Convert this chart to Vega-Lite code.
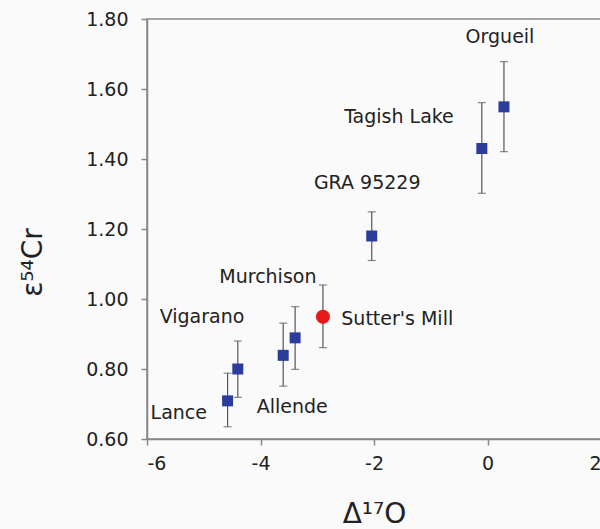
{
  "$schema": "https://vega.github.io/schema/vega-lite/v6.json",
  "autosize": {"type": "none"},
  "width": 454,
  "height": 420,
  "padding": {"left": 147, "top": 19, "right": 0, "bottom": 90},
  "background": "#fafafa",
  "config": {
    "font": "DejaVu Sans",
    "view": {"stroke": "#888888", "strokeWidth": 1.5},
    "axis": {"grid": false, "domainColor": "#888888", "tickColor": "#888888", "domainWidth": 1.5, "tickWidth": 1.5, "labelColor": "#222222", "titleColor": "#222222", "labelFont": "DejaVu Sans", "titleFont": "DejaVu Sans", "titleFontWeight": "normal"}
  },
  "datasets": {
    "pts": [
      {"name": "Lance", "kind": "CC", "d17O": -4.58, "e54Cr": 0.709, "lo": 0.635, "hi": 0.788},
      {"name": "Vigarano", "kind": "CC", "d17O": -4.40, "e54Cr": 0.800, "lo": 0.719, "hi": 0.880},
      {"name": "Allende", "kind": "CC", "d17O": -3.60, "e54Cr": 0.839, "lo": 0.751, "hi": 0.931},
      {"name": "Murchison", "kind": "CC", "d17O": -3.39, "e54Cr": 0.889, "lo": 0.799, "hi": 0.978},
      {"name": "Sutter's Mill", "kind": "SM", "d17O": -2.90, "e54Cr": 0.949, "lo": 0.861, "hi": 1.040},
      {"name": "GRA 95229", "kind": "CC", "d17O": -2.04, "e54Cr": 1.180, "lo": 1.110, "hi": 1.249},
      {"name": "Tagish Lake", "kind": "CC", "d17O": -0.10, "e54Cr": 1.430, "lo": 1.302, "hi": 1.561},
      {"name": "Orgueil", "kind": "CC", "d17O": 0.29, "e54Cr": 1.549, "lo": 1.421, "hi": 1.678}
    ],
    "labels": [
      {"name": "Orgueil", "lx": 0.22, "ly": 1.749},
      {"name": "Tagish Lake", "lx": -1.56, "ly": 1.52},
      {"name": "GRA 95229", "lx": -2.12, "ly": 1.331},
      {"name": "Murchison", "lx": -3.87, "ly": 1.063},
      {"name": "Vigarano", "lx": -5.03, "ly": 0.949},
      {"name": "Sutter's Mill", "lx": -1.59, "ly": 0.943},
      {"name": "Allende", "lx": -3.44, "ly": 0.691},
      {"name": "Lance", "lx": -5.44, "ly": 0.674}
    ]
  },
  "layer": [
    {
      "data": {"name": "pts"},
      "mark": {"type": "rule", "color": "#555555", "strokeWidth": 1.2},
      "encoding": {
        "x": {"field": "d17O", "type": "quantitative", "scale": {"domain": [-6, 2], "nice": false},
          "axis": {"values": [-6, -4, -2, 0, 2], "labelExpr": "'' + datum.value", "title": "Δ¹⁷O", "titleFontSize": 28, "labelFontSize": 19, "tickSize": 6, "labelPadding": 9, "titlePadding": 27}},
        "y": {"field": "lo", "type": "quantitative", "scale": {"domain": [0.6, 1.8], "nice": false},
          "axis": {"values": [0.6, 0.8, 1.0, 1.2, 1.4, 1.6, 1.8], "format": ".2f", "title": "ε⁵⁴Cr", "titleFontSize": 28, "labelFontSize": 19, "tickSize": 6, "labelPadding": 13, "titlePadding": 38, "titleY": 243}},
        "y2": {"field": "hi"}
      }
    },
    {
      "data": {"name": "pts"},
      "mark": {"type": "tick", "color": "#555555", "orient": "horizontal", "size": 8, "thickness": 1.2},
      "encoding": {
        "x": {"field": "d17O", "type": "quantitative"},
        "y": {"field": "lo", "type": "quantitative"}
      }
    },
    {
      "data": {"name": "pts"},
      "mark": {"type": "tick", "color": "#555555", "orient": "horizontal", "size": 8, "thickness": 1.2},
      "encoding": {
        "x": {"field": "d17O", "type": "quantitative"},
        "y": {"field": "hi", "type": "quantitative"}
      }
    },
    {
      "data": {"name": "pts"},
      "mark": {"type": "point", "filled": true, "opacity": 1},
      "encoding": {
        "x": {"field": "d17O", "type": "quantitative"},
        "y": {"field": "e54Cr", "type": "quantitative"},
        "shape": {"field": "kind", "type": "nominal", "scale": {"domain": ["CC", "SM"], "range": ["square", "circle"]}, "legend": null},
        "color": {"field": "kind", "type": "nominal", "scale": {"domain": ["CC", "SM"], "range": ["#2b3d9c", "#e8191b"]}, "legend": null},
        "size": {"field": "kind", "type": "nominal", "scale": {"domain": ["CC", "SM"], "range": [121, 200]}, "legend": null}
      }
    },
    {
      "data": {"name": "labels"},
      "mark": {"type": "text", "fontSize": 19, "color": "#222222", "align": "center", "baseline": "middle"},
      "encoding": {
        "x": {"field": "lx", "type": "quantitative"},
        "y": {"field": "ly", "type": "quantitative"},
        "text": {"field": "name"}
      }
    }
  ]
}
